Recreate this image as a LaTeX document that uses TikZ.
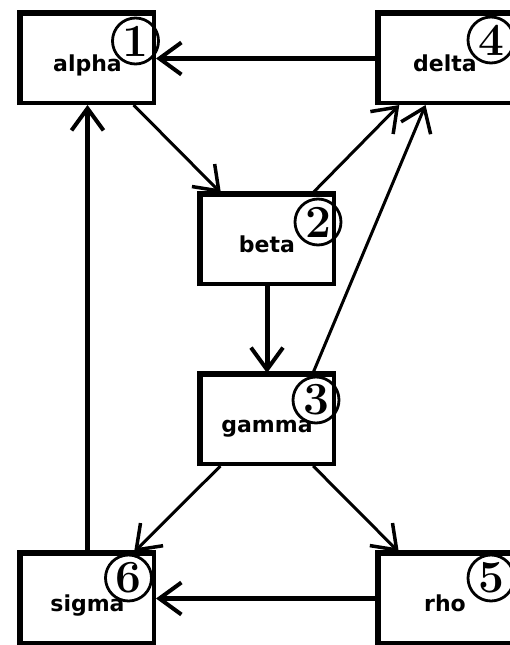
\documentclass[tikz,border=0pt]{standalone}
\usepackage{fontspec}
\newfontfamily\labelfont{DejaVu Sans}
\usetikzlibrary{arrows.meta}

\begin{document}
\begin{tikzpicture}[x=1pt,y=-1pt,
  box/.style={draw, line width=4pt, minimum width=133pt, minimum height=89pt, inner sep=0pt},
  lbl/.style={anchor=base, inner sep=0pt, font=\labelfont\bfseries\fontsize{22}{26}\selectfont},
  num/.style={draw, circle, line width=2.8pt, minimum size=46pt, inner sep=0pt,
              font=\bfseries\fontsize{46}{46}\selectfont},
  tip/.style={-{Straight Barb[length=22pt,width=32pt,line width=#1]}},
  link/.style={line width=3pt, tip=3.5pt},
  heavy/.style={line width=5pt, tip=4pt}]

\useasboundingbox (0,0) rectangle (510,645);
\clip (0,0) rectangle (510,645);

% boxes
\node[box] (alpha) at (87.5,58.5)  {};
\node[box] (delta) at (445,58.5)   {};
\node[box] (beta)  at (267,239.5)  {};
\node[box] (gamma) at (267,419.5)  {};
\node[box] (sigma) at (87.5,598.5) {};
\node[box] (rho)   at (445,598.5)  {};

% heavier left and top borders
\foreach \n in {alpha,delta,beta,gamma,sigma,rho}
  \draw[line width=2pt] ([xshift=-1pt]\n.south west)
    -- ([xshift=-1pt,yshift=1pt]\n.north west) -- ([yshift=1pt]\n.north east);

% labels
\node[lbl] (alpha-t) at ([yshift=-13pt]alpha.center) {alpha};
\node[lbl] (delta-t) at ([yshift=-13pt]delta.center) {delta};
\node[lbl] (beta-t)  at ([yshift=-13pt]beta.center)  {beta};
\node[lbl] (gamma-t) at ([yshift=-13pt]gamma.center) {gamma};
\node[lbl] (sigma-t) at ([yshift=-13pt]sigma.center) {sigma};
\node[lbl] (rho-t)   at ([yshift=-13pt]rho.center)   {rho};

% connectors
\draw[heavy] (delta) -- (alpha);
\draw[link]  (alpha) -- (beta);
\draw[link]  (beta) -- (delta);
\draw[heavy] (beta) -- (gamma);
\draw[link]  ([xshift=46pt]gamma.north) -- (delta);
\draw[link]  (gamma) -- (sigma);
\draw[link]  (gamma) -- (rho);
\draw[heavy] (rho) -- (sigma);
\draw[heavy] (sigma) -- (alpha);

% numbered markers
\node[num] (n1) at (135.5,41)  {1};
\node[num] (n2) at (318,222)   {2};
\node[num] (n3) at (316,400)   {3};
\node[num] (n4) at (491,40)    {4};
\node[num] (n5) at (491,578)   {5};
\node[num] (n6) at (128.5,578) {6};
\end{tikzpicture}
\end{document}
